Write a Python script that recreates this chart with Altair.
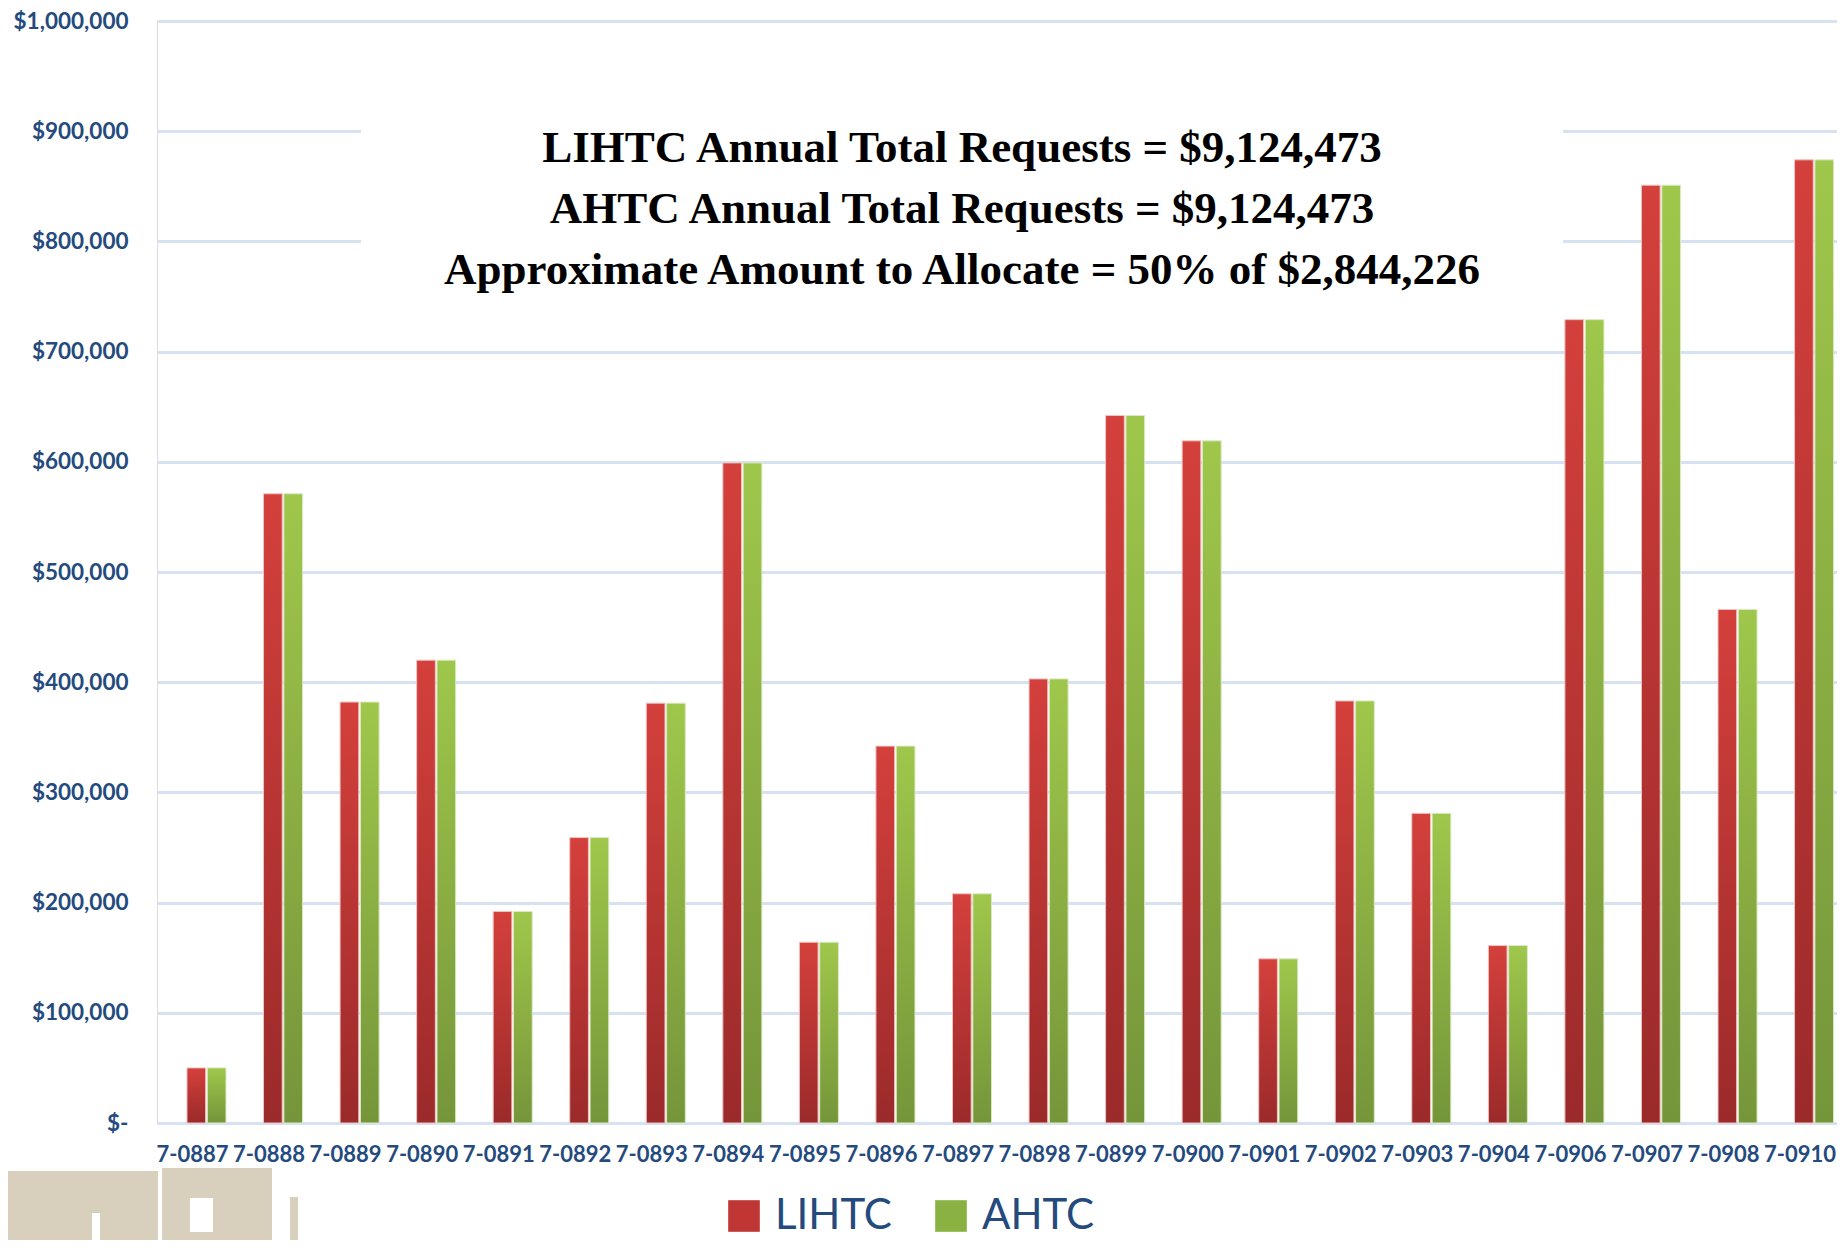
import altair as alt
import pandas as pd

PROJECTS = ["7-0887", "7-0888", "7-0889", "7-0890", "7-0891", "7-0892", "7-0893",
            "7-0894", "7-0895", "7-0896", "7-0897", "7-0898", "7-0899", "7-0900",
            "7-0901", "7-0902", "7-0903", "7-0904", "7-0906", "7-0907", "7-0908",
            "7-0910"]
LIHTC_VALUES = [50000, 571000, 382000, 420000, 192000, 259000, 381000,
                599000, 164000, 342000, 208000, 403000, 642000, 619000,
                149000, 383000, 281000, 161000, 729000, 851000, 466000,
                874000]
AHTC_VALUES = [50000, 571000, 382000, 420000, 192000, 259000, 381000,
               599000, 164000, 342000, 208000, 403000, 642000, 619000,
               149000, 383000, 281000, 161000, 729000, 851000, 466000,
               874000]
SERIES = ["LIHTC", "AHTC"]
Y_TICKS = [0, 100000, 200000, 300000, 400000, 500000, 600000, 700000, 800000, 900000, 1000000]
TITLE_LINES = [
    "LIHTC Annual Total Requests = $9,124,473",
    "AHTC Annual Total Requests = $9,124,473",
    "Approximate Amount to Allocate = 50% of $2,844,226",
]

rows = []
for p, v in zip(PROJECTS, LIHTC_VALUES):
    rows.append({"project": p, "series": "LIHTC", "value": v})
for p, v in zip(PROJECTS, AHTC_VALUES):
    rows.append({"project": p, "series": "AHTC", "value": v})
df = pd.DataFrame(rows)

LABEL_COLOR = "#244a7e"

red_grad = alt.Gradient(
    gradient="linear",
    stops=[alt.GradientStop(color="#d4403c", offset=0),
           alt.GradientStop(color="#9b2a2a", offset=1)],
    x1=0, x2=0, y1=0, y2=1,
)
green_grad = alt.Gradient(
    gradient="linear",
    stops=[alt.GradientStop(color="#9fc74b", offset=0),
           alt.GradientStop(color="#75953a", offset=1)],
    x1=0, x2=0, y1=0, y2=1,
)

x_enc = alt.X(
    "project:N",
    sort=PROJECTS,
    scale=alt.Scale(paddingInner=0.49, paddingOuter=0.218, align=0.898),
    axis=alt.Axis(title=None, domain=False, ticks=False, labelAngle=0,
                  labelFont="Lato", labelFontSize=22, labelFontWeight="bold",
                  labelColor=LABEL_COLOR, labelPadding=21, labelOverlap=False,
                  labelOffset=-14, labelBound=False, grid=False),
)
xoff_enc = alt.XOffset("series:N", sort=SERIES,
                       scale=alt.Scale(domain=SERIES, paddingInner=0.08, paddingOuter=0))
y_enc = alt.Y(
    "value:Q",
    scale=alt.Scale(domain=[0, 1000000], nice=False),
    axis=alt.Axis(values=Y_TICKS, title=None, domain=False, ticks=False,
                  grid=True, gridColor="#d6e2f2", gridWidth=3,
                  labelExpr="datum.value == 0 ? '$-' : '$' + format(datum.value, ',')",
                  labelFont="Lato", labelFontSize=22.5, labelFontWeight="bold",
                  labelColor=LABEL_COLOR, labelPadding=29),
)

base = alt.Chart(df).encode(x=x_enc, xOffset=xoff_enc, y=y_enc)

red_bars = base.transform_filter(alt.datum.series == "LIHTC").mark_bar(
    color=red_grad, stroke="#eec4c2", strokeWidth=1)
green_bars = base.transform_filter(alt.datum.series == "AHTC").mark_bar(
    color=green_grad, stroke="#dbe9c4", strokeWidth=1)

one = pd.DataFrame({"k": [0]})

# white box behind the annotation text (hides grid lines like the original text box)
title_box = alt.Chart(one).mark_rect(color="white").encode(
    x=alt.value(204), x2=alt.value(1406), y=alt.value(70), y2=alt.value(300))

title_text = alt.Chart(one).mark_text(
    text=TITLE_LINES, font="Liberation Serif, DejaVu Serif",
    fontSize=45, fontWeight="bold", lineHeight=61, align="center",
    baseline="middle", color="black",
).encode(x=alt.value(805), y=alt.value(127))

# legend carrier (zero-size marks)
legend_df = pd.DataFrame({"series": SERIES})
legend_layer = alt.Chart(legend_df).mark_rect().encode(
    x=alt.value(0), x2=alt.value(0), y=alt.value(0), y2=alt.value(0),
    color=alt.Color("series:N", sort=SERIES,
                    scale=alt.Scale(domain=SERIES, range=["#c03634", "#8ab243"]),
                    legend=alt.Legend(title=None, orient="none", legendX=566, legendY=1174,
                                      direction="horizontal", symbolType="square",
                                      symbolSize=1000, symbolStrokeWidth=0,
                                      labelFont="Lato", labelFontSize=42,
                                      labelColor=LABEL_COLOR, labelOffset=10,
                                      columnPadding=38, padding=0, labelLimit=300)),
)

# faint logo watermark, bottom left
beige = "#d8cfbd"
logo_a = alt.Chart(one).mark_rect(color=beige).encode(
    x=alt.value(-157), x2=alt.value(1), y=alt.value(1150), y2=alt.value(1240))
logo_b = alt.Chart(one).mark_rect(color=beige).encode(
    x=alt.value(5), x2=alt.value(115), y=alt.value(1147), y2=alt.value(1240))
logo_c = alt.Chart(one).mark_rect(color=beige).encode(
    x=alt.value(133), x2=alt.value(141), y=alt.value(1176), y2=alt.value(1240))
logo_w1 = alt.Chart(one).mark_rect(color="white").encode(
    x=alt.value(-65), x2=alt.value(-57), y=alt.value(1192), y2=alt.value(1240))
logo_w2 = alt.Chart(one).mark_rect(color="white").encode(
    x=alt.value(33), x2=alt.value(56), y=alt.value(1177), y2=alt.value(1211))

chart = alt.layer(
    logo_a, logo_b, logo_c, logo_w1, logo_w2,
    title_box, red_bars, green_bars, legend_layer, title_text,
).properties(
    width=1680, height=1102,
    autosize=alt.AutoSizeParams(type="none"),
    padding={"left": 149, "top": 13, "right": 0, "bottom": 117},
).configure_view(stroke=None).configure(background="white")

chart.save("out.html", embed_options={"renderer": "svg", "actions": False})
